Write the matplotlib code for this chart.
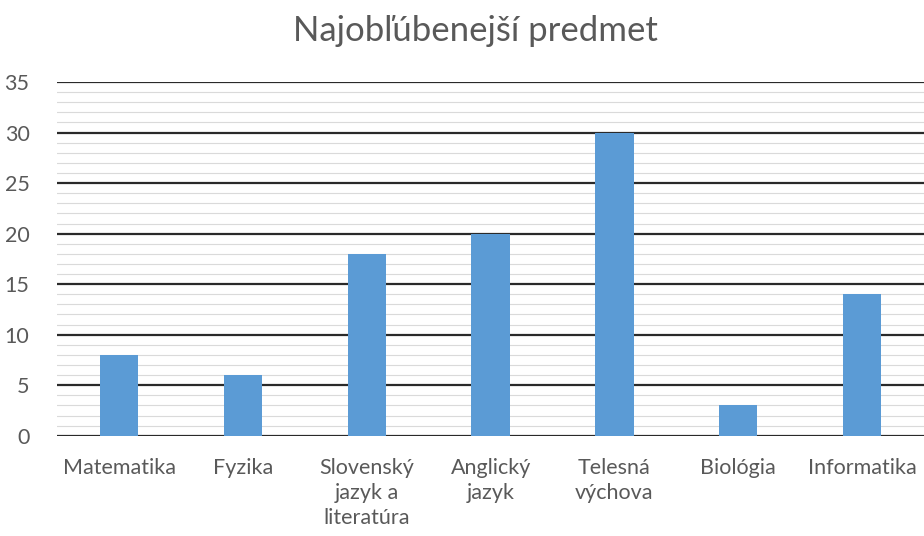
import matplotlib
matplotlib.use("Agg")
import matplotlib.pyplot as plt
from matplotlib.ticker import MultipleLocator

subjects = ["Matematika", "Fyzika", "Slovenský\njazyk a\nliteratúra", "Anglický\njazyk",
            "Telesná\nvýchova", "Biológia", "Informatika"]
votes = [8, 6, 18, 20, 30, 3, 14]

plt.rcParams["font.family"] = ["Lato", "DejaVu Sans"]
text_grey = "#595959"

fig = plt.figure(figsize=(9.24, 5.36), dpi=100)
ax = fig.add_axes([0.062, 0.187, 0.938, 0.660])

x = range(len(subjects))
ax.bar(x, votes, width=0.31, color="#5B9BD5", zorder=3)

ax.set_xlim(-0.5, len(subjects) - 0.5)
ax.set_ylim(0, 35)
ax.yaxis.set_major_locator(MultipleLocator(5))
ax.yaxis.set_minor_locator(MultipleLocator(1))
ax.grid(axis="y", which="major", color="#2a2a2a", linewidth=1.6, zorder=1)
ax.grid(axis="y", which="minor", color="#dadada", linewidth=0.8, zorder=0)

ax.set_xticks(list(x))
ax.set_xticklabels(subjects, linespacing=1.32, multialignment="center")
ax.tick_params(axis="x", length=0, pad=16, labelsize=15.5, labelcolor=text_grey)
ax.tick_params(axis="y", which="both", length=0, pad=20, labelsize=15.5, labelcolor=text_grey)

for s in ax.spines.values():
    s.set_visible(False)

fig.text(0.515, 0.942, "Najobľúbenejší predmet", ha="center", va="center",
         fontsize=25, color=text_grey)

fig.savefig("out.png", dpi=100)
